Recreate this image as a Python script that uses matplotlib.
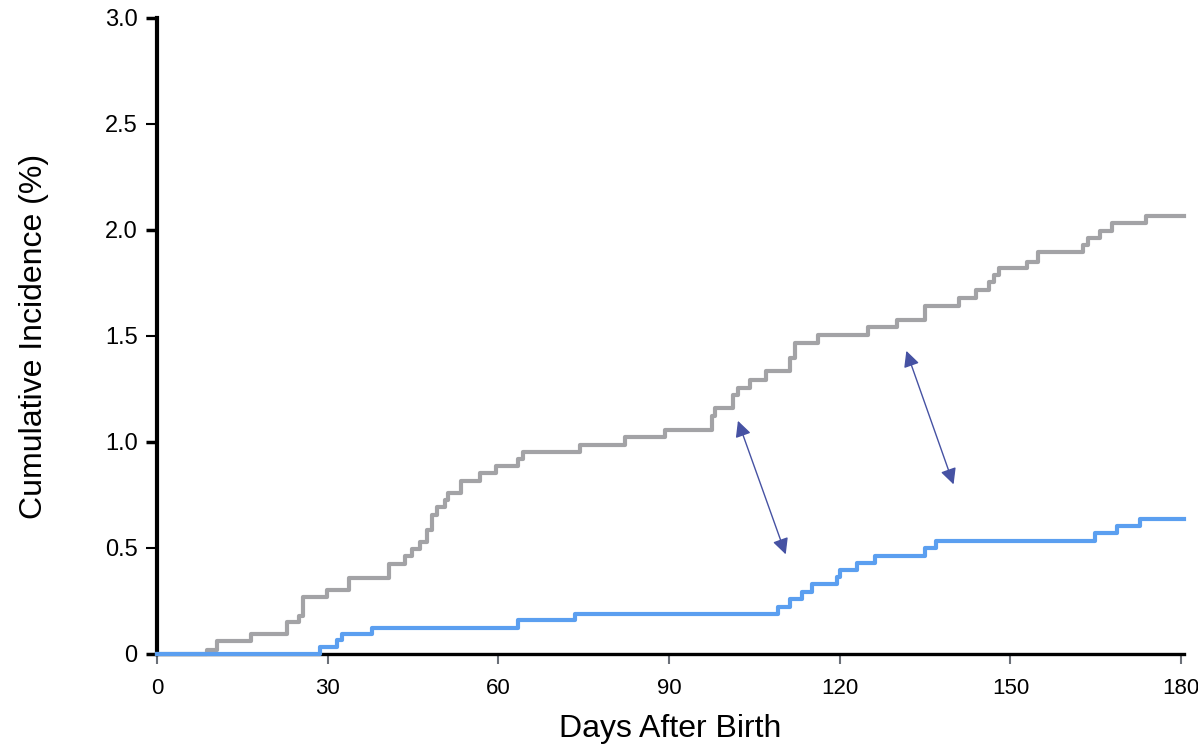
import matplotlib.pyplot as plt

# step-curve data (day of step, level after step, %)
gray_days = [0, 8.7, 10.5, 16.6, 22.8, 25.0, 25.7, 29.8, 33.7, 40.7,
             43.6, 44.8, 46.2, 47.4, 48.3, 49.2, 50.6, 51.2, 53.5, 56.7,
             59.6, 63.5, 64.4, 74.4, 82.3, 89.3, 97.5, 98.1, 101.3, 102.1,
             104.2, 107.1, 111.3, 112.1, 116.2, 125.0, 130.0, 135.0, 141.0, 144.0,
             146.2, 147.1, 147.9, 152.9, 154.9, 162.8, 163.7, 165.8, 167.8, 173.8,
             180.5]
gray_vals = [0, 0.02, 0.06, 0.095, 0.15, 0.18, 0.27, 0.30, 0.36, 0.425,
             0.46, 0.494, 0.53, 0.585, 0.656, 0.695, 0.726, 0.758, 0.815, 0.852,
             0.887, 0.918, 0.954, 0.986, 1.022, 1.057, 1.122, 1.159, 1.224, 1.256,
             1.292, 1.333, 1.396, 1.468, 1.505, 1.541, 1.575, 1.643, 1.678, 1.717,
             1.756, 1.788, 1.82, 1.851, 1.894, 1.929, 1.962, 1.996, 2.034, 2.067,
             2.067]

blue_days = [0, 28.7, 31.6, 32.6, 37.7, 63.5, 73.5, 109.2, 111.3, 113.3, 115.1,
             119.6, 120.1, 123.1, 126.2, 135.0, 137.0, 164.9, 168.8, 172.8, 180.5]
blue_vals = [0, 0.035, 0.066, 0.094, 0.124, 0.16, 0.19, 0.223, 0.259, 0.294,
             0.33, 0.362, 0.396, 0.427, 0.462, 0.498, 0.533, 0.569, 0.604,
             0.637, 0.637]

# double-headed arrows (tail/head in data coords)
arrows = [((102.1, 1.10), (110.5, 0.47)),
          ((131.7, 1.43), (140.0, 0.80))]

x_ticks = [0, 30, 60, 90, 120, 150, 180]
y_ticks = [0, 0.5, 1.0, 1.5, 2.0, 2.5, 3.0]
y_labels = ["0", "0.5", "1.0", "1.5", "2.0", "2.5", "3.0"]

plt.rcParams['font.family'] = ['Liberation Sans', 'DejaVu Sans']

fig = plt.figure(figsize=(11.98, 7.52), dpi=100)
ax = fig.add_axes([157 / 1198, 1 - 654 / 752, 1027 / 1198, 636 / 752])

ax.step(gray_days, gray_vals, where='post', color='#a3a3a6', lw=3.0,
        clip_on=False, zorder=3)
ax.step(blue_days, blue_vals, where='post', color='#5b9ff0', lw=3.0,
        clip_on=False, zorder=4)

for (x0, y0), (x1, y1) in arrows:
    ax.annotate("", xy=(x1, y1), xytext=(x0, y0),
                arrowprops=dict(arrowstyle='<|-|>', color='#4652a3', lw=1.0,
                                mutation_scale=24, shrinkA=0, shrinkB=0))

ax.set_xlim(0, 180.5)
ax.set_ylim(0, 3.0)
ax.set_xticks(x_ticks)
ax.set_yticks(y_ticks)
ax.set_yticklabels(y_labels)

for side in ['top', 'right']:
    ax.spines[side].set_visible(False)
ax.spines['left'].set_linewidth(3.0)
ax.spines['bottom'].set_linewidth(2.4)
ax.spines['left'].set_zorder(2)

ax.tick_params(axis='x', length=7, width=1.5, color='#6b7078', labelsize=16,
               pad=10)
ax.tick_params(axis='y', length=8, width=2.5, labelsize=17, pad=6)
for tick, val in zip(ax.yaxis.get_major_ticks(), y_ticks):
    if val % 1 != 0:
        tick.tick1line.set_color('#6b7078')
        tick.tick1line.set_markeredgewidth(1.5)

ax.set_xlabel("Days After Birth", fontsize=23, labelpad=11)
ax.set_ylabel("Cumulative Incidence (%)", fontsize=23, labelpad=40)

fig.savefig("out.png", dpi=100)
